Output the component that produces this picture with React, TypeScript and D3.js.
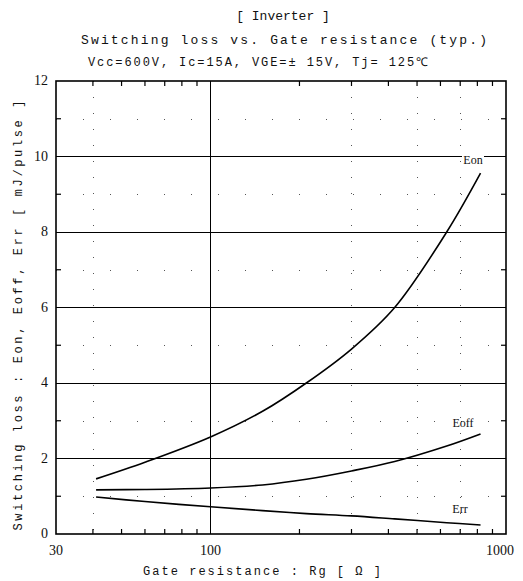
import React from 'react';
import * as d3 from 'd3';

// gate resistance [ohm] and switching losses [mJ/pulse]
const rg = [41, 60, 100, 150, 211, 300, 420, 630, 820];
const eon = [1.46, 1.9, 2.57, 3.25, 4.0, 4.9, 6.0, 8.0, 9.56];
const eoff = [1.17, 1.18, 1.22, 1.3, 1.45, 1.67, 1.92, 2.33, 2.65];
const err = [0.98, 0.86, 0.72, 0.62, 0.54, 0.48, 0.4, 0.3, 0.24];

const yMajor = [0, 2, 4, 6, 8, 10, 12];
const yMinor = [1, 3, 5, 7, 9, 11];
const xLabels = [30, 100, 1000];
const xMinor = [40, 50, 60, 70, 80, 90, 200, 300, 400, 500, 600, 700, 800, 900];
const xDotted = [40, 300, 500, 700];

const W = 523;
const H = 581;
const m = { left: 56, right: 17, top: 81, bottom: 47 };
const font = '"Liberation Mono", "DejaVu Sans Mono", monospace';
const serif = '"Liberation Serif", "DejaVu Serif", serif';

export default function App() {
  const x = d3.scaleLog().domain([30, 1000]).range([m.left, W - m.right]);
  const y = d3.scaleLinear().domain([0, 12]).range([H - m.bottom, m.top]);

  const line = d3
    .line<number>()
    .x((d, i) => x(rg[i]))
    .y(d => y(d))
    .curve(d3.curveCatmullRom.alpha(0.5));

  const series = [
    { name: 'Eon', vals: eon, lx: 473, ly: 164 },
    { name: 'Eoff', vals: eoff, lx: 463, ly: 427 },
    { name: 'Err', vals: err, lx: 460, ly: 513 },
  ];

  const x0 = x.range()[0];
  const x1 = x.range()[1];
  const y0 = y.range()[0];
  const y1 = y.range()[1];

  return (
    <svg width={W} height={H} style={{ position: 'absolute', left: 0, top: 0, background: '#fff' }}>
      <g fontFamily={font} fill="#111">
        <text x={283} y={20} fontSize={13} textAnchor="middle">[ Inverter ]</text>
        <text x={284} y={44} fontSize={13} textAnchor="middle" textLength={406} lengthAdjust="spacing">
          Switching loss  vs.  Gate resistance (typ.)
        </text>
        <text x={258} y={66} fontSize={12} textAnchor="middle" textLength={340} lengthAdjust="spacing">
          Vcc=600V, Ic=15A, VGE=± 15V, Tj= 125℃
        </text>
      </g>

      {/* dotted minor grid */}
      <g stroke="#555" strokeWidth={1} strokeDasharray="1 15">
        {xDotted.map(v => (
          <line key={'xd' + v} x1={Math.round(x(v)) + 0.5} x2={Math.round(x(v)) + 0.5} y1={y1} y2={y0} />
        ))}
        {yMinor.map(v => (
          <line key={'yd' + v} x1={x0} x2={x1} y1={Math.round(y(v)) + 0.5} y2={Math.round(y(v)) + 0.5} strokeDasharray="1 26" />
        ))}
      </g>

      {/* major grid */}
      <g stroke="#000" strokeWidth={1} shapeRendering="crispEdges">
        {yMajor.slice(1, -1).map(v => (
          <line key={'yg' + v} x1={x0} x2={x1} y1={y(v)} y2={y(v)} />
        ))}
        <line x1={x(100)} x2={x(100)} y1={y1} y2={y0} />
      </g>

      {/* minor ticks */}
      <g stroke="#000" strokeWidth={1.2}>
        {yMinor.map(v => (
          <g key={'yt' + v}>
            <line x1={x0} x2={x0 + 5} y1={y(v)} y2={y(v)} />
            <line x1={x1} x2={x1 - 5} y1={y(v)} y2={y(v)} />
          </g>
        ))}
        {xMinor.map(v => (
          <g key={'xt' + v}>
            <line x1={x(v)} x2={x(v)} y1={y0} y2={y0 - 5} />
            <line x1={x(v)} x2={x(v)} y1={y1} y2={y1 + 5} />
          </g>
        ))}
      </g>

      <rect x={x0} y={y1} width={x1 - x0} height={y0 - y1} fill="none" stroke="#000" strokeWidth={1.6} />

      {/* curves */}
      <g fill="none" stroke="#000" strokeWidth={1.6}>
        {series.map(s => (
          <path key={s.name} d={line(s.vals) || ''} />
        ))}
      </g>

      <rect x={462} y={153} width={22} height={10} fill="#fff" />
      <g fontFamily={serif} fontSize={12} fill="#111">
        {series.map(s => (
          <text key={'l' + s.name} x={s.lx} y={s.ly} textAnchor="middle">{s.name}</text>
        ))}
      </g>

      {/* axis labels */}
      <g fontFamily={font} fontSize={13} fill="#111">
        {yMajor.map(v => (
          <text key={'yl' + v} x={x0 - 8} y={y(v) + 4} textAnchor="end" fontFamily={serif} fontSize={14}>{v}</text>
        ))}
        {xLabels.map(v => (
          <text key={'xl' + v} x={v === 1000 ? x(v) - 6 : x(v)} y={y0 + 21} textAnchor="middle" fontFamily={serif} fontSize={14}>{v}</text>
        ))}
        <text x={262} y={H - 6} textAnchor="middle" fontSize={12} textLength={238} lengthAdjust="spacing">
          Gate resistance  :  Rg  [ Ω  ]
        </text>
        <text
          transform={`translate(22, ${(y0 + y1) / 2 + 8}) rotate(-90)`}
          textAnchor="middle"
          fontSize={12}
          textLength={430}
          lengthAdjust="spacing"
        >
          Switching loss  :  Eon, Eoff, Err  [ mJ/pulse ]
        </text>
      </g>
    </svg>
  );
}
